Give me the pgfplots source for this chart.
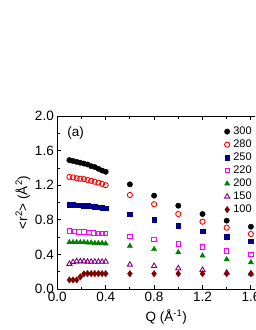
\documentclass[border=0pt]{standalone}
\usepackage{pgfplots}
\pgfplotsset{compat=1.18}
\usepackage{fontspec}
\setmainfont{Liberation Sans}
\definecolor{cnavy}{RGB}{0,0,139}
\definecolor{cred}{RGB}{255,0,0}
\definecolor{cmag}{RGB}{255,0,255}
\definecolor{cgreen}{RGB}{0,128,0}
\definecolor{cpurp}{RGB}{128,0,128}
\definecolor{cbrown}{RGB}{128,0,0}
\begin{document}
\begin{tikzpicture}
\useasboundingbox (0,0) rectangle (255pt,330pt);
\clip (0,0) rectangle (255pt,330pt);
\begin{axis}[
  at={(57.3pt,41pt)}, anchor=south west,
  scale only axis, width=217.8pt, height=173pt,
  xmin=0, xmax=1.8, ymin=0, ymax=2.0,
  xtick={0,0.4,0.8,1.2,1.6}, ytick={0,0.4,0.8,1.2,1.6,2.0},
  minor x tick num=1, minor y tick num=1,
  tick align=inside,
  major tick length=4pt, minor tick length=2.5pt,
  axis line style={line width=0.8pt},
  every tick/.style={line width=0.8pt, black},
  tick label style={font=\fontsize{13.5}{16}\selectfont},
  label style={font=\fontsize{13.5}{16}\selectfont},
  /pgf/number format/assume math mode=true,
  /pgf/number format/.cd, fixed, fixed zerofill, precision=1,
  /pgfplots/.cd,
  xlabel={Q (Å\textsuperscript{-1})},
  ylabel={<r\textsuperscript{2}> (Å\textsuperscript{2})},
  xlabel style={yshift=-1pt},
  ylabel style={yshift=-2pt},
  legend image code/.code={\draw[#1] plot coordinates {(0pt,0pt)};},
  legend style={at={(axis cs:1.355,1.92)}, anchor=north west, draw=none, fill=none,
    font=\fontsize{11}{13}\selectfont, row sep=0pt,
    nodes={inner sep=1.5pt, text height=8pt, text depth=2pt},
    /tikz/every odd column/.append style={column sep=2pt}},
  legend cell align=left,
]
\addplot[only marks, mark=*, mark size=2.7pt, black] coordinates {
(0.10,1.49)(0.13,1.48)(0.16,1.47)(0.19,1.46)(0.22,1.45)(0.25,1.44)(0.28,1.42)(0.31,1.41)(0.34,1.39)(0.37,1.37)(0.40,1.355)
(0.6,1.21)(0.8,1.079)(1.0,0.963)(1.2,0.867)(1.4,0.79)(1.6,0.72)};
\addplot[only marks, mark=o, mark size=2.6pt, cred, line width=0.9pt] coordinates {
(0.10,1.295)(0.13,1.29)(0.16,1.28)(0.19,1.275)(0.22,1.27)(0.25,1.26)(0.28,1.25)(0.31,1.24)(0.34,1.23)(0.37,1.215)(0.40,1.20)
(0.6,1.087)(0.8,0.98)(1.0,0.867)(1.2,0.778)(1.4,0.709)(1.6,0.636)};
\addplot[only marks, mark=square*, mark size=2.3pt, cnavy] coordinates {
(0.10,0.975)(0.13,0.975)(0.16,0.97)(0.19,0.97)(0.22,0.965)(0.25,0.96)(0.28,0.955)(0.31,0.95)(0.34,0.945)(0.37,0.94)(0.40,0.935)
(0.6,0.867)(0.8,0.80)(1.0,0.732)(1.2,0.667)(1.4,0.605)(1.6,0.551)};
\addplot[only marks, mark=square, mark size=2.2pt, cmag, line width=0.9pt] coordinates {
(0.10,0.67)(0.14,0.665)(0.18,0.66)(0.22,0.66)(0.26,0.655)(0.30,0.65)(0.34,0.645)(0.37,0.64)(0.40,0.64)
(0.6,0.605)(0.8,0.57)(1.0,0.52)(1.2,0.486)(1.4,0.44)(1.6,0.397)};
\addplot[only marks, mark=triangle*, mark size=3pt, cgreen] coordinates {
(0.10,0.54)(0.13,0.54)(0.16,0.54)(0.19,0.54)(0.22,0.54)(0.25,0.535)(0.28,0.535)(0.31,0.53)(0.34,0.53)(0.37,0.53)(0.40,0.525)
(0.6,0.497)(0.8,0.46)(1.0,0.424)(1.2,0.385)(1.4,0.343)(1.6,0.308)};
\addplot[only marks, mark=triangle, mark size=3pt, cpurp, line width=0.9pt] coordinates {
(0.10,0.29)(0.13,0.31)(0.16,0.32)(0.19,0.32)(0.22,0.32)(0.25,0.315)(0.28,0.315)(0.31,0.315)(0.34,0.315)(0.37,0.315)(0.40,0.315)
(0.6,0.281)(0.8,0.266)(1.0,0.239)(1.2,0.22)(1.4,0.189)(1.6,0.177)};
\addplot[only marks, mark=diamond*, mark size=3.2pt, cbrown] coordinates {
(0.10,0.105)(0.13,0.105)(0.16,0.105)(0.19,0.14)(0.22,0.175)(0.25,0.178)(0.28,0.178)(0.31,0.178)(0.34,0.178)(0.37,0.178)(0.40,0.178)
(0.6,0.177)(0.8,0.177)(1.0,0.177)(1.2,0.177)(1.4,0.177)(1.6,0.177)};
\legend{300,280,250,220,200,150,100}
\node[anchor=west, font=\fontsize{13.5}{16}\selectfont] at (axis cs:0.055,1.80) {(a)};
\end{axis}
\end{tikzpicture}
\end{document}
